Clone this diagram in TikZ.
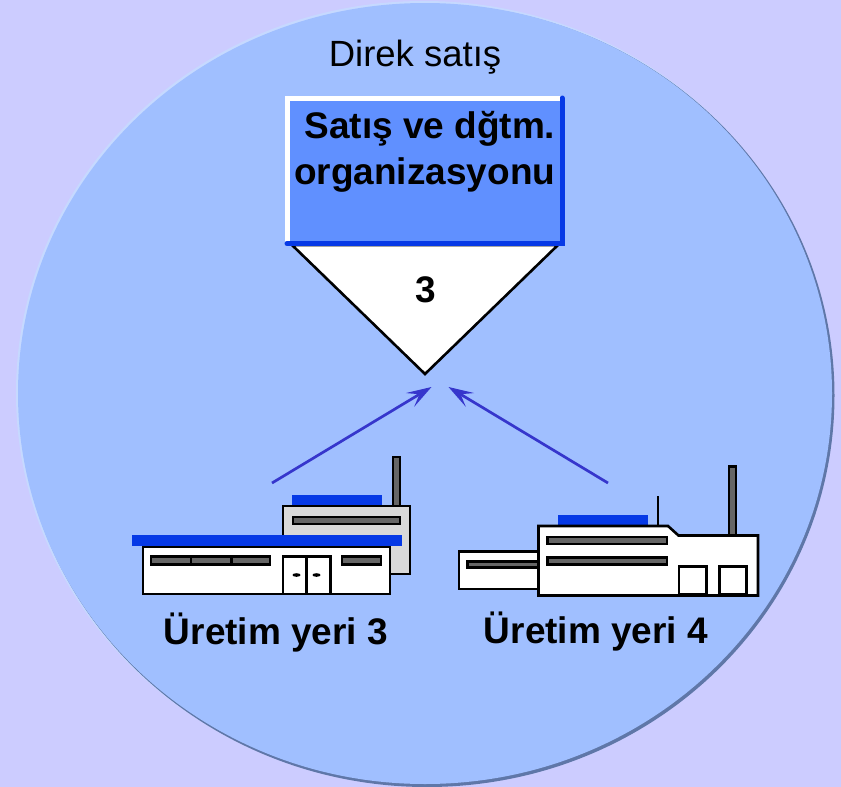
\documentclass[tikz,border=0pt]{standalone}
\usepackage{fontspec}
\setmainfont{Liberation Sans}
\usetikzlibrary{arrows.meta}
\definecolor{bgc}{HTML}{CCCCFF}
\definecolor{disc}{HTML}{A0BFFF}
\definecolor{discedge}{HTML}{5F77A8}
\definecolor{disclight}{HTML}{C6D9FF}
\definecolor{boxc}{HTML}{6090FF}
\definecolor{roofc}{HTML}{0639E6}
\definecolor{arrowc}{HTML}{3636CC}
\definecolor{slot}{HTML}{666666}
\definecolor{wallg}{HTML}{D9D9D9}
\tikzset{
  wall/.style={draw=black,line width=2.6pt,fill=white,line join=miter},
  slotbar/.style={draw=black,line width=2.8pt,fill=slot},
  roof/.style={fill=roofc,draw=none},
  flow/.style={draw=arrowc,line width=2.7pt,-{Stealth[length=25pt,width=16pt,inset=11pt]}},
  lab/.style={font=\bfseries\fontsize{37}{40}\selectfont,text=black,inner sep=0pt,anchor=base},
}
\begin{document}
\begin{tikzpicture}[x=1pt,y=-1pt]
\useasboundingbox (0,0) rectangle (841,787);
\fill[bgc] (0,0) rectangle (841,787);
% disc
\begin{scope}
\clip (0,0) rectangle (841,787);
\fill[disclight] (424,393) ellipse[x radius=408,y radius=392];
\fill[discedge] (427,395.5) ellipse[x radius=407.5,y radius=391.5];
\fill[disc] (425,393.5) ellipse[x radius=407,y radius=390.5];
\end{scope}
\node[inner sep=0pt,anchor=base,font=\fontsize{36.5}{40}\selectfont] (title) at (415,66) {Direk satış};
% triangle
\draw[draw=black,line width=2.6pt,fill=white,line join=miter] (292,245) -- (558,245) -- (425,374) -- cycle;
\coordinate (tip) at (425,374);
% box
\fill[boxc] (288,98) rectangle (562,243);
\draw[white,line width=5pt,line cap=round] (287,243) -- (287,98) -- (562,98);
\draw[roofc,line width=5pt,line cap=round] (562,98) -- (562,243.5) -- (287,243.5);
\node[lab,anchor=base east] (l1) at (555.5,138.5) {Satış ve dğtm.};
\node[lab,anchor=base east] (l2) at (555.5,184) {organizasyonu};
\node[lab] (n3) at (425.5,302) {3};
% factory 3
\draw[slotbar,line width=2.6pt] (393,457) rectangle (400,507);
\fill[roofc] (292,495) rectangle (382,506);
\draw[draw=black,line width=2.6pt,fill=wallg] (283,506) rectangle (410,574);
\draw[slotbar] (293,517) rectangle (400,524);
\fill[roofc] (132,535) rectangle (402,546);
\draw[wall] (143,547) rectangle (390,594);
\draw[slotbar] (151,556.5) rectangle (270,564.5);
\draw[black,line width=2.6pt] (191,556) -- (191,565) (231.5,556) -- (231.5,565);
\draw[slotbar] (342,556.5) rectangle (381,564.5);
\draw[draw=black,line width=2.6pt,fill=white] (283,556.5) rectangle (330.5,594);
\draw[black,line width=2.6pt] (306.5,556.5) -- (306.5,594);
\fill[black] (296.5,575) ellipse[x radius=4,y radius=1.8];
\fill[black] (316.5,575) ellipse[x radius=4,y radius=1.8];
% factory 4
\draw[slotbar,line width=2.6pt] (729,466.5) rectangle (736,536);
\draw[black,line width=2.6pt] (658,496) -- (658,526);
\fill[roofc] (558,515) rectangle (648,525);
\draw[wall] (459,551.5) rectangle (539,589);
\draw[slotbar] (467.5,561.5) rectangle (539,567.5);
\draw[wall] (538.5,526) -- (668,526) -- (678.5,535.5) -- (758,535.5) -- (758,595.5) -- (538.5,595.5) -- cycle;
\draw[slotbar] (547.5,537) rectangle (667,544);
\draw[slotbar] (547.5,557.5) rectangle (667,564.5);
\draw[draw=black,line width=2.6pt,fill=white] (679,566.5) rectangle (706.5,594.5);
\draw[draw=black,line width=2.6pt,fill=white] (719.5,566.5) rectangle (746.5,594.5);
\draw[black,line width=3.2pt] (679,594.5) -- (706.5,594.5) (719.5,594.5) -- (746.5,594.5);
% labels
\node[lab] (p3) at (276,644) {Üretim yeri 3};
\node[lab] (p4) at (596,643) {Üretim yeri 4};
% arrows
\coordinate (a3) at (272,483);
\coordinate (a4) at (608,483);
\coordinate (h3) at (431.5,387);
\coordinate (h4) at (448.5,387);
\draw[flow] (a3) -- (h3);
\draw[flow] (a4) -- (h4);
\end{tikzpicture}
\end{document}
